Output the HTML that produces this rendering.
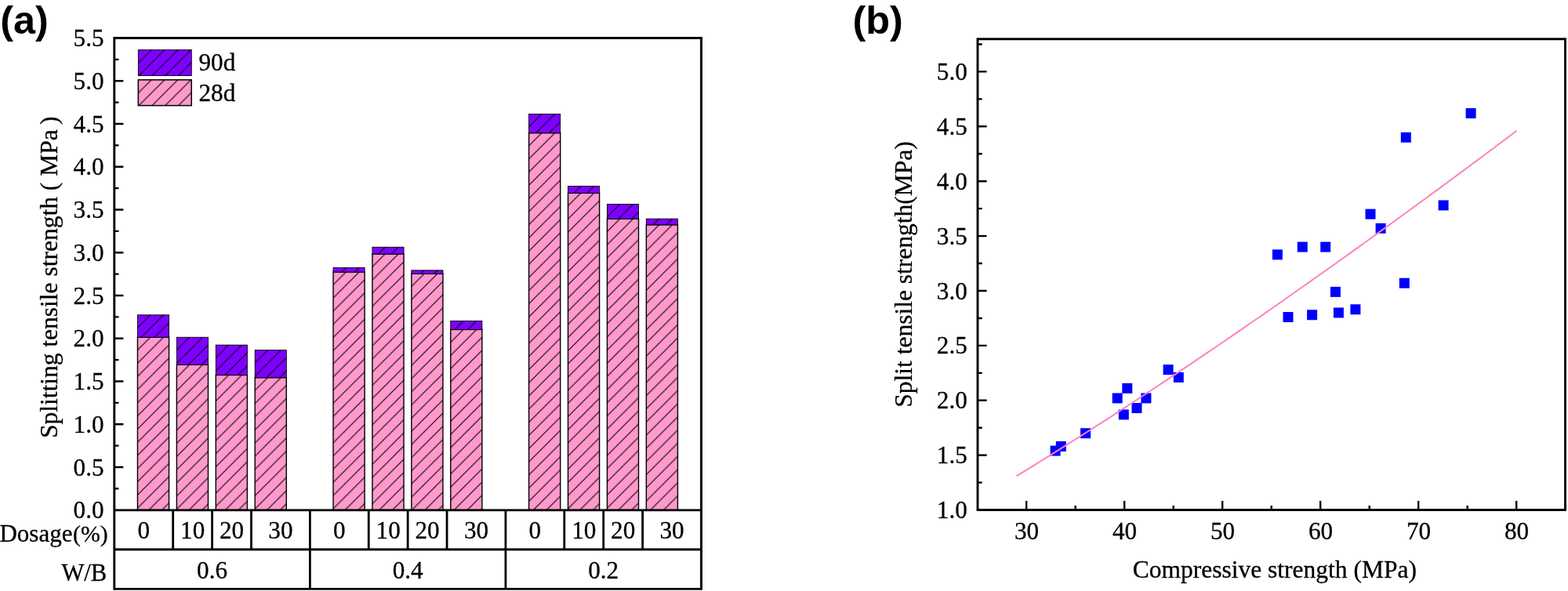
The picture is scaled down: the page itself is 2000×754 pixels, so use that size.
<!DOCTYPE html>
<html lang="en"><head><meta charset="utf-8"><title>Splitting tensile strength</title>
<style>
html,body{margin:0;padding:0;background:#fff;}
body{width:2000px;height:754px;overflow:hidden;}
svg{display:block;}
text{font-family:"Liberation Serif","Times New Roman",serif;fill:#000;stroke:#000;stroke-width:0.3px;}
.lab{font-family:"Liberation Sans",Arial,sans-serif;font-weight:bold;stroke:none;}
</style></head><body>
<svg width="2000" height="754" viewBox="0 0 2000 754">
<defs><pattern id="h" patternUnits="userSpaceOnUse" x="0" y="0" width="16.8" height="16.8"><path d="M-8.4,8.4 L8.4,-8.4 M-1,17.8 L17.8,-1 M8.4,25.200000000000003 L25.200000000000003,8.4" stroke="#000" stroke-width="1.1" fill="none"/></pattern></defs>
<rect x="0" y="0" width="2000" height="754" fill="#fff"/>
<g stroke="#000" stroke-width="1.4">
<g transform="translate(174.96,430.29)"><rect x="0.5" width="40.10" height="220.51" fill="#ff99cc" stroke="none"/><rect x="0.5" width="40.10" height="220.51" fill="url(#h)"/></g><g transform="translate(174.96,401.82)"><rect x="0.5" width="40.10" height="28.47" fill="#7f00ff" stroke="none"/><rect x="0.5" width="40.10" height="28.47" fill="url(#h)" stroke-width="0.9"/></g>
<g transform="translate(224.88,465.33)"><rect x="0.5" width="40.10" height="185.47" fill="#ff99cc" stroke="none"/><rect x="0.5" width="40.10" height="185.47" fill="url(#h)"/></g><g transform="translate(224.88,430.29)"><rect x="0.5" width="40.10" height="35.04" fill="#7f00ff" stroke="none"/><rect x="0.5" width="40.10" height="35.04" fill="url(#h)" stroke-width="0.9"/></g>
<g transform="translate(274.79,478.48)"><rect x="0.5" width="40.10" height="172.32" fill="#ff99cc" stroke="none"/><rect x="0.5" width="40.10" height="172.32" fill="url(#h)"/></g><g transform="translate(274.79,440.15)"><rect x="0.5" width="40.10" height="38.33" fill="#7f00ff" stroke="none"/><rect x="0.5" width="40.10" height="38.33" fill="url(#h)" stroke-width="0.9"/></g>
<g transform="translate(324.70,481.76)"><rect x="0.5" width="40.10" height="169.04" fill="#ff99cc" stroke="none"/><rect x="0.5" width="40.10" height="169.04" fill="url(#h)"/></g><g transform="translate(324.70,446.72)"><rect x="0.5" width="40.10" height="35.04" fill="#7f00ff" stroke="none"/><rect x="0.5" width="40.10" height="35.04" fill="url(#h)" stroke-width="0.9"/></g>
<g transform="translate(424.53,347.06)"><rect x="0.5" width="40.10" height="303.74" fill="#ff99cc" stroke="none"/><rect x="0.5" width="40.10" height="303.74" fill="url(#h)"/></g><g transform="translate(424.53,341.59)"><rect x="0.5" width="40.10" height="5.48" fill="#7f00ff" stroke="none"/><rect x="0.5" width="40.10" height="5.48" fill="url(#h)" stroke-width="0.9"/></g>
<g transform="translate(474.44,324.07)"><rect x="0.5" width="40.10" height="326.73" fill="#ff99cc" stroke="none"/><rect x="0.5" width="40.10" height="326.73" fill="url(#h)"/></g><g transform="translate(474.44,315.31)"><rect x="0.5" width="40.10" height="8.76" fill="#7f00ff" stroke="none"/><rect x="0.5" width="40.10" height="8.76" fill="url(#h)" stroke-width="0.9"/></g>
<g transform="translate(524.36,349.25)"><rect x="0.5" width="40.10" height="301.55" fill="#ff99cc" stroke="none"/><rect x="0.5" width="40.10" height="301.55" fill="url(#h)"/></g><g transform="translate(524.36,344.87)"><rect x="0.5" width="40.10" height="4.38" fill="#7f00ff" stroke="none"/><rect x="0.5" width="40.10" height="4.38" fill="url(#h)" stroke-width="0.9"/></g>
<g transform="translate(574.27,420.44)"><rect x="0.5" width="40.10" height="230.36" fill="#ff99cc" stroke="none"/><rect x="0.5" width="40.10" height="230.36" fill="url(#h)"/></g><g transform="translate(574.27,409.48)"><rect x="0.5" width="40.10" height="10.95" fill="#7f00ff" stroke="none"/><rect x="0.5" width="40.10" height="10.95" fill="url(#h)" stroke-width="0.9"/></g>
<g transform="translate(674.10,169.66)"><rect x="0.5" width="40.10" height="481.14" fill="#ff99cc" stroke="none"/><rect x="0.5" width="40.10" height="481.14" fill="url(#h)"/></g><g transform="translate(674.10,145.57)"><rect x="0.5" width="40.10" height="24.09" fill="#7f00ff" stroke="none"/><rect x="0.5" width="40.10" height="24.09" fill="url(#h)" stroke-width="0.9"/></g>
<g transform="translate(724.01,246.32)"><rect x="0.5" width="40.10" height="404.48" fill="#ff99cc" stroke="none"/><rect x="0.5" width="40.10" height="404.48" fill="url(#h)"/></g><g transform="translate(724.01,237.56)"><rect x="0.5" width="40.10" height="8.76" fill="#7f00ff" stroke="none"/><rect x="0.5" width="40.10" height="8.76" fill="url(#h)" stroke-width="0.9"/></g>
<g transform="translate(773.92,279.17)"><rect x="0.5" width="40.10" height="371.63" fill="#ff99cc" stroke="none"/><rect x="0.5" width="40.10" height="371.63" fill="url(#h)"/></g><g transform="translate(773.92,260.55)"><rect x="0.5" width="40.10" height="18.62" fill="#7f00ff" stroke="none"/><rect x="0.5" width="40.10" height="18.62" fill="url(#h)" stroke-width="0.9"/></g>
<g transform="translate(823.84,286.83)"><rect x="0.5" width="40.10" height="363.97" fill="#ff99cc" stroke="none"/><rect x="0.5" width="40.10" height="363.97" fill="url(#h)"/></g><g transform="translate(823.84,279.17)"><rect x="0.5" width="40.10" height="7.67" fill="#7f00ff" stroke="none"/><rect x="0.5" width="40.10" height="7.67" fill="url(#h)" stroke-width="0.9"/></g>
<g transform="translate(176.35,63.65)"><rect x="-0.0" width="67.90" height="32.80" fill="#7f00ff" stroke="none"/><rect x="-0.0" width="67.90" height="32.80" fill="url(#h)" stroke-width="0.9"/></g><g transform="translate(176.35,101.85)"><rect x="-0.0" width="67.90" height="32.80" fill="#ff99cc" stroke="none"/><rect x="-0.0" width="67.90" height="32.80" fill="url(#h)" stroke-width="1.5"/></g>
</g>
<text x="253.5" y="90.2" font-size="31.2">90d</text>
<text x="253.5" y="129.3" font-size="31.2">28d</text>
<g stroke="#000" fill="none">
<path d="M145.8,752.8 L145.8,48.5 L894.5,48.5 L894.5,752.8" stroke-width="2.9" stroke-linejoin="miter"/>
<path d="M145.8,650.8 L894.5,650.8 M145.8,701.0 L894.5,701.0 M145.8,751.4 L894.5,751.4" stroke-width="2.8"/>
<path d="M145.8,623.42 L151.5,623.42 M145.8,596.05 L157.4,596.05 M145.8,568.67 L151.5,568.67 M145.8,541.29 L157.4,541.29 M145.8,513.91 L151.5,513.91 M145.8,486.54 L157.4,486.54 M145.8,459.16 L151.5,459.16 M145.8,431.78 L157.4,431.78 M145.8,404.40 L151.5,404.40 M145.8,377.03 L157.4,377.03 M145.8,349.65 L151.5,349.65 M145.8,322.27 L157.4,322.27 M145.8,294.90 L151.5,294.90 M145.8,267.52 L157.4,267.52 M145.8,240.14 L151.5,240.14 M145.8,212.76 L157.4,212.76 M145.8,185.39 L151.5,185.39 M145.8,158.01 L157.4,158.01 M145.8,130.63 L151.5,130.63 M145.8,103.25 L157.4,103.25 M145.8,75.88 L151.5,75.88" stroke-width="2.4"/>
<path d="M220.67,650.8 L220.67,701.0 M270.58,650.8 L270.58,701.0 M320.50,650.8 L320.50,701.0 M395.37,650.8 L395.37,751.4 M470.24,650.8 L470.24,701.0 M520.15,650.8 L520.15,701.0 M570.06,650.8 L570.06,701.0 M644.93,650.8 L644.93,751.4 M719.80,650.8 L719.80,701.0 M769.72,650.8 L769.72,701.0 M819.63,650.8 L819.63,701.0" stroke-width="2.8"/>
</g>
<g font-size="31.2" text-anchor="end">
<text x="132.6" y="661.30">0.0</text><text x="132.6" y="606.55">0.5</text><text x="132.6" y="551.79">1.0</text><text x="132.6" y="497.04">1.5</text><text x="132.6" y="442.28">2.0</text><text x="132.6" y="387.53">2.5</text><text x="132.6" y="332.77">3.0</text><text x="132.6" y="278.02">3.5</text><text x="132.6" y="223.26">4.0</text><text x="132.6" y="168.51">4.5</text><text x="132.6" y="113.75">5.0</text><text x="132.6" y="59.00">5.5</text>
</g>
<g font-size="31.2" text-anchor="middle">
<text x="183.24" y="687.0">0</text><text x="245.63" y="687.0">10</text><text x="295.54" y="687.0">20</text><text x="357.93" y="687.0">30</text><text x="270.58" y="737.6">0.6</text>
<text x="432.80" y="687.0">0</text><text x="495.19" y="687.0">10</text><text x="545.11" y="687.0">20</text><text x="607.50" y="687.0">30</text><text x="520.15" y="737.6">0.4</text>
<text x="682.37" y="687.0">0</text><text x="744.76" y="687.0">10</text><text x="794.67" y="687.0">20</text><text x="857.06" y="687.0">30</text><text x="769.72" y="737.6">0.2</text>
</g>
<text x="137.7" y="690.5" font-size="31.0" text-anchor="end">Dosage<tspan font-size="29.8" dx="0.6">(%)</tspan></text>
<text x="136.2" y="741.0" font-size="30.6" text-anchor="end">W/B</text>
<text transform="translate(72.8,353.75) rotate(-90)" font-size="31.5" text-anchor="middle">Splitting tensile strength ( MPa<tspan dx="-1.5"> )</tspan></text>
<text class="lab" x="0.3" y="43.0" font-size="50.4">(a)</text>
<text class="lab" x="1087.5" y="43.0" font-size="50.4">(b)</text>
<g stroke="#000" fill="none" stroke-width="2.9">
<rect x="1247.0" y="49.8" width="749.5" height="600.8000000000001"/>
<path d="M1247.0,615.65 L1252.7,615.65 M1247.0,580.70 L1258.6,580.70 M1247.0,545.75 L1252.7,545.75 M1247.0,510.80 L1258.6,510.80 M1247.0,475.85 L1252.7,475.85 M1247.0,440.90 L1258.6,440.90 M1247.0,405.95 L1252.7,405.95 M1247.0,371.00 L1258.6,371.00 M1247.0,336.05 L1252.7,336.05 M1247.0,301.10 L1258.6,301.10 M1247.0,266.15 L1252.7,266.15 M1247.0,231.20 L1258.6,231.20 M1247.0,196.25 L1252.7,196.25 M1247.0,161.30 L1258.6,161.30 M1247.0,126.35 L1252.7,126.35 M1247.0,91.40 L1258.6,91.40 M1247.0,56.45 L1252.7,56.45 M1309.20,650.6 L1309.20,639.0 M1371.70,650.6 L1371.70,644.9 M1434.20,650.6 L1434.20,639.0 M1496.70,650.6 L1496.70,644.9 M1559.20,650.6 L1559.20,639.0 M1621.70,650.6 L1621.70,644.9 M1684.20,650.6 L1684.20,639.0 M1746.70,650.6 L1746.70,644.9 M1809.20,650.6 L1809.20,639.0 M1871.70,650.6 L1871.70,644.9 M1934.20,650.6 L1934.20,639.0" stroke-width="2.4"/>
</g>
<g fill="#0000ff">
<rect x="1339.60" y="568.61" width="13.0" height="13.0"/><rect x="1346.80" y="563.02" width="13.0" height="13.0"/><rect x="1378.10" y="546.24" width="13.0" height="13.0"/><rect x="1418.70" y="501.50" width="13.0" height="13.0"/><rect x="1431.30" y="488.92" width="13.0" height="13.0"/><rect x="1426.80" y="522.47" width="13.0" height="13.0"/><rect x="1443.50" y="514.09" width="13.0" height="13.0"/><rect x="1455.40" y="501.50" width="13.0" height="13.0"/><rect x="1483.60" y="465.16" width="13.0" height="13.0"/><rect x="1496.80" y="474.94" width="13.0" height="13.0"/><rect x="1869.60" y="138.02" width="13.0" height="13.0"/><rect x="1786.80" y="168.78" width="13.0" height="13.0"/><rect x="1834.60" y="255.46" width="13.0" height="13.0"/><rect x="1741.50" y="266.64" width="13.0" height="13.0"/><rect x="1754.60" y="284.81" width="13.0" height="13.0"/><rect x="1622.90" y="318.37" width="13.0" height="13.0"/><rect x="1654.80" y="308.58" width="13.0" height="13.0"/><rect x="1684.20" y="308.58" width="13.0" height="13.0"/><rect x="1784.80" y="354.71" width="13.0" height="13.0"/><rect x="1696.90" y="365.90" width="13.0" height="13.0"/><rect x="1636.50" y="398.05" width="13.0" height="13.0"/><rect x="1667.10" y="395.26" width="13.0" height="13.0"/><rect x="1700.90" y="392.46" width="13.0" height="13.0"/><rect x="1722.40" y="388.27" width="13.0" height="13.0"/>
</g>
<polyline points="1296.6,607.3 1307.2,600.8 1317.9,594.3 1328.5,587.7 1339.1,581.1 1349.8,574.4 1360.4,567.7 1371.0,561.0 1381.7,554.2 1392.3,547.5 1402.9,540.6 1413.6,533.8 1424.2,526.9 1434.8,520.0 1445.5,513.0 1456.1,506.0 1466.7,499.0 1477.4,492.0 1488.0,484.9 1498.6,477.8 1509.3,470.7 1519.9,463.6 1530.5,456.4 1541.2,449.2 1551.8,442.0 1562.4,434.7 1573.1,427.4 1583.7,420.1 1594.3,412.8 1605.0,405.5 1615.6,398.1 1626.2,390.7 1636.9,383.3 1647.5,375.8 1658.1,368.3 1668.8,360.9 1679.4,353.3 1690.0,345.8 1700.7,338.2 1711.3,330.7 1721.9,323.1 1732.6,315.4 1743.2,307.8 1753.8,300.1 1764.5,292.4 1775.1,284.7 1785.7,277.0 1796.4,269.3 1807.0,261.5 1817.6,253.7 1828.3,245.9 1838.9,238.1 1849.5,230.2 1860.2,222.4 1870.8,214.5 1881.4,206.6 1892.1,198.7 1902.7,190.7 1913.3,182.8 1924.0,174.8 1934.6,166.8" fill="none" stroke="#ff80c0" stroke-width="2.0"/>
<g font-size="31.2" text-anchor="end">
<text x="1233.8" y="661.10">1.0</text><text x="1233.8" y="591.20">1.5</text><text x="1233.8" y="521.30">2.0</text><text x="1233.8" y="451.40">2.5</text><text x="1233.8" y="381.50">3.0</text><text x="1233.8" y="311.60">3.5</text><text x="1233.8" y="241.70">4.0</text><text x="1233.8" y="171.80">4.5</text><text x="1233.8" y="101.90">5.0</text>
</g>
<g font-size="31.2" text-anchor="middle">
<text x="1309.60" y="687.8">30</text><text x="1434.60" y="687.8">40</text><text x="1559.60" y="687.8">50</text><text x="1684.60" y="687.8">60</text><text x="1809.60" y="687.8">70</text><text x="1934.60" y="687.8">80</text>
</g>
<text x="1625.8" y="737.4" font-size="31.5" text-anchor="middle">Compressive strength (MPa)</text>
<text transform="translate(1162.9,350.0) rotate(-90)" font-size="31.5" text-anchor="middle">Split tensile strength(MPa)</text>
</svg>
</body></html>
